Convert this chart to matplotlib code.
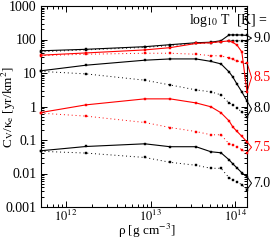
import numpy as np
import matplotlib
matplotlib.use("Agg")
import matplotlib.pyplot as plt
from matplotlib.ticker import LogLocator, FixedLocator, FixedFormatter, NullFormatter
import matplotlib.transforms as mtransforms

plt.rcParams['font.family'] = ['Liberation Serif', 'DejaVu Serif']
plt.rcParams['mathtext.fontset'] = 'stix'

# density grid [g cm^-3]
rho = [5.0e11, 1.72e12, 8.5e12, 1.69e13, 3.42e13, 5.14e13, 6.75e13,
       8.4e13, 9.3e13, 1.04e14, 1.19e14, 1.37e14]

logT_labels = ['9.0', '8.5', '8.0', '7.5', '7.0']
colors = ['black', 'red', 'black', 'red', 'black']

solid_90 = [46, 51, 61, 70, 80, 83, 92, 137, 137, 137, 136, 132]
dotted_90 = [43, 49, 58, 66, 76, 79, 85, 92, 92, 92, 92, 92]
solid_85 = [34.0, 39.7, 48.9, 57.1, 76.2, 80.5, 86.3, 90.6, 81.7, 68.9, 42.6, 2.74]
dotted_85 = [33.0, 36.3, 38.9, 38.9, 36.3, 33.0, 32.4, 28.2, 25.4, 23.0, 21.4, 20.0]
solid_80 = [11.6, 17.1, 24.1, 26.3, 26.3, 22.2, 18.7, 10.8, 7.65, 4.73, 2.74, 1.47]
dotted_80 = [11.2, 9.4, 6.1, 4.4, 3.13, 2.74, 2.22, 1.28, 1.12, 0.91, 0.69, 0.49]
solid_75 = [0.66, 1.12, 1.69, 1.69, 1.28, 0.98, 0.65, 0.373, 0.247, 0.182, 0.129, 0.088]
dotted_75 = [0.634, 0.516, 0.333, 0.236, 0.179, 0.143, 0.143, 0.077, 0.070, 0.063, 0.051, 0.042]
solid_70 = [0.0477, 0.064, 0.077, 0.063, 0.063, 0.0445, 0.0416, 0.0257, 0.0195, 0.0148, 0.0105, 0.0080]
dotted_70 = [0.046, 0.0407, 0.0301, 0.0216, 0.0176, 0.0143, 0.0143, 0.0075, 0.0065, 0.0057, 0.0046, 0.0033]

solids = [solid_90, solid_85, solid_80, solid_75, solid_70]
dotteds = [dotted_90, dotted_85, dotted_80, dotted_75, dotted_70]

ytick_vals = [1e-3, 1e-2, 1e-1, 1, 10, 100, 1000]
ytick_labels = ['0.001', '0.01', '0.1', '1', '10', '100', '1000']
xtick_vals = [1e12, 1e13, 1e14]
xtick_labels = ['$10^{12}$', '$10^{13}$', '$10^{14}$']

fig = plt.figure(figsize=(2.72, 2.41), dpi=100)
ax = fig.add_axes([41/272, 1-207/241, 206/272, 201/241])
ax.set_xscale('log')
ax.set_yscale('log')

for s, d, c in zip(solids, dotteds, colors):
    ax.plot(rho, d, color=c, lw=0.7, ls=(0, (1, 3)), marker='s', ms=1.9,
            mec=c, mfc=c, mew=0.3, clip_on=False, zorder=3)
    ax.plot(rho, s, color=c, lw=0.8, ls='-', marker='s', ms=1.9,
            mec=c, mfc=c, mew=0.3, clip_on=False, zorder=4)

ax.set_xlim(5.05e11, 1.37e14)
ax.set_ylim(1e-3, 1e3)

ax.yaxis.set_major_locator(FixedLocator(ytick_vals))
ax.yaxis.set_major_formatter(FixedFormatter(ytick_labels))
ax.xaxis.set_major_locator(FixedLocator(xtick_vals))
ax.xaxis.set_major_formatter(FixedFormatter(xtick_labels))
ax.xaxis.set_minor_locator(LogLocator(base=10, subs=np.arange(2, 10), numticks=100))
ax.yaxis.set_minor_locator(LogLocator(base=10, subs=np.arange(2, 10), numticks=100))
ax.xaxis.set_minor_formatter(NullFormatter())
ax.yaxis.set_minor_formatter(NullFormatter())

ax.tick_params(which='both', direction='in', top=True, right=True, labelsize=10,
               width=0.7)
ax.tick_params(which='major', length=4.5, pad=3)
ax.tick_params(axis='x', which='major', pad=1.5, labelsize=9)
ax.tick_params(which='minor', length=2.2)
for sp in ax.spines.values():
    sp.set_linewidth(0.8)

fig.text(147/272, 1.0/241, 'ρ [g cm$^{-3}$]', fontsize=9.5,
         ha='center', va='bottom')
fig.text(8.5/272, 1-107/241, 'C$_{\\rm V}$/κ$_{\\rm e}$ [yr/km$^2$]',
         fontsize=9.5, ha='center', va='center', rotation=90)

# brackets and labels at right
trans = mtransforms.blended_transform_factory(ax.transAxes, ax.transData)
for s, d, c, lab in zip(solids, dotteds, colors, logT_labels):
    top = max(s[-1], d[-1])
    bot = min(s[-1], d[-1])
    mid = np.sqrt(top * bot)
    ax.plot([1.0, 1.022, 1.0], [top, mid, bot], color=c, lw=0.7,
            transform=trans, clip_on=False)
    ax.text(1.03, mid, lab, color=c, fontsize=10, ha='left', va='center',
            transform=trans, clip_on=False)

ax.text(0.72, 0.93, r'log$_{10}$ T  [K] =', transform=ax.transAxes, fontsize=10,
        ha='left', va='center', clip_on=False)

fig.savefig('out.png', dpi=100)
